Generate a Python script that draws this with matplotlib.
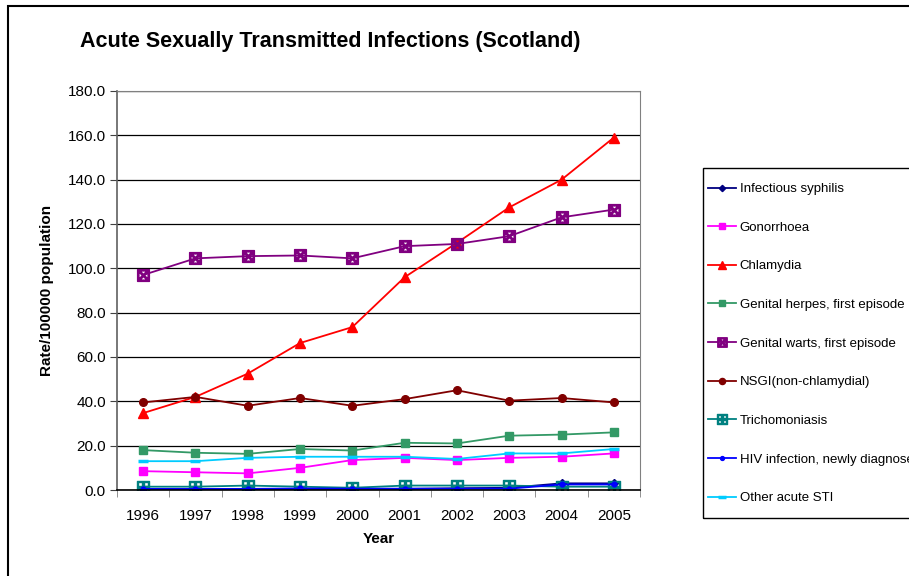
import matplotlib
matplotlib.use("Agg")
import matplotlib.pyplot as plt
from matplotlib.patches import Rectangle

plt.rcParams['font.family'] = ['Liberation Sans', 'DejaVu Sans']

years = ['1996', '1997', '1998', '1999', '2000', '2001', '2002', '2003', '2004', '2005']
syphilis = [0.3, 0.3, 0.3, 0.5, 0.5, 0.5, 0.8, 1.0, 3.0, 3.0]
gonorrhoea = [8.5, 8.0, 7.5, 10.0, 13.5, 14.5, 13.5, 14.5, 15.0, 16.5]
chlamydia = [34.7, 42.0, 52.5, 66.3, 73.5, 96.0, 111.5, 127.5, 140.0, 159.0]
herpes = [18.0, 16.8, 16.3, 18.5, 17.8, 21.3, 21.0, 24.5, 25.0, 26.0]
warts = [97.0, 104.5, 105.5, 105.8, 104.5, 110.0, 111.0, 114.5, 123.0, 126.5]
nsgi = [39.5, 42.0, 38.0, 41.5, 38.0, 41.0, 45.0, 40.3, 41.5, 39.5]
trich = [1.5, 1.5, 2.0, 1.5, 1.0, 2.0, 2.0, 2.0, 1.5, 1.5]
hiv = [0.5, 0.5, 0.5, 0.7, 0.6, 0.6, 0.6, 0.6, 2.5, 2.5]
other = [13.0, 13.0, 14.5, 15.0, 15.0, 15.0, 14.0, 16.5, 16.5, 18.5]

labels = ['Infectious syphilis', 'Gonorrhoea', 'Chlamydia', 'Genital herpes, first episode',
          'Genital warts, first episode', 'NSGI(non-chlamydial)', 'Trichomoniasis',
          'HIV infection, newly diagnosed', 'Other acute STI']

fig = plt.figure(figsize=(9.09, 5.76), dpi=100)
ax = fig.add_axes([117/909, 1-490/576, (640-117)/909, (490-91)/576])

x = list(range(len(years)))
styles = [
    (syphilis, '#000080', dict(marker='D', ms=4)),
    (gonorrhoea, '#FF00FF', dict(marker='s', ms=5.5)),
    (chlamydia, '#FF0000', dict(marker='^', ms=6.5)),
    (herpes, '#339966', dict(marker='s', ms=5.5)),
    (warts, '#800080', dict(marker=r'$\boxtimes$', ms=8.5)),
    (nsgi, '#800000', dict(marker='o', ms=5.5)),
    (trich, '#008080', dict(marker=r'$\boxplus$', ms=8.5)),
    (hiv, '#0000FF', dict(marker='o', ms=3.5)),
    (other, '#00CCFF', dict(marker='_', ms=7, mew=2.5)),
]
handles = []
for (vals, col, kw), lab in zip(styles, labels):
    h, = ax.plot(x, vals, color=col, lw=1.3, label=lab, **kw)
    handles.append(h)

ax.set_xlim(-0.5, 9.5)
ax.set_ylim(0, 180)
ax.set_yticks(range(0, 181, 20))
ax.set_yticklabels([f'{v:.1f}' for v in range(0, 181, 20)])
ax.set_xticks(x)
ax.set_xticklabels(years)
ax.set_xticks([i - 0.5 for i in range(11)], minor=True)
ax.tick_params(axis='x', which='major', length=0, labelsize=11, pad=14)
ax.tick_params(axis='x', which='minor', length=5, direction='out', color='#808080')
ax.tick_params(axis='y', length=5, direction='out', labelsize=11, color='#404040', pad=3)
ax.yaxis.grid(True, color='black', lw=0.9)
ax.set_axisbelow(True)
for s in ['top', 'right']:
    ax.spines[s].set_color('#808080')
ax.spines['left'].set_color('#606060')
ax.spines['left'].set_linewidth(1.2)
ax.spines['bottom'].set_color('black')
ax.spines['bottom'].set_linewidth(1.2)

ax.set_ylabel('Rate/100000 population', fontsize=11, fontweight='bold', labelpad=10)
ax.set_xlabel('Year', fontsize=11, fontweight='bold', labelpad=6)
fig.text(330/909, 1-42/576, 'Acute Sexually Transmitted Infections (Scotland)',
         fontsize=15.5, fontweight='bold', ha='center', va='center')

# legend box frame
fig.patches.append(Rectangle((703/909, 1-518/576), 0.5, 350/576, transform=fig.transFigure,
                             fill=False, edgecolor='black', lw=1.0))
leg = fig.legend(handles=handles, loc='upper left', bbox_to_anchor=(708/909, 1-183/576),
                 fontsize=9.5, labelspacing=2.0, handlelength=2.1, handletextpad=0.3,
                 borderpad=0, borderaxespad=0, frameon=False, markerscale=0.8)

fig.patches.append(Rectangle((8/909, -0.1), 1.2, 1 - 6/576 + 0.1, transform=fig.transFigure,
                             fill=False, edgecolor='black', lw=1.5))

fig.savefig('out.png', dpi=100)
